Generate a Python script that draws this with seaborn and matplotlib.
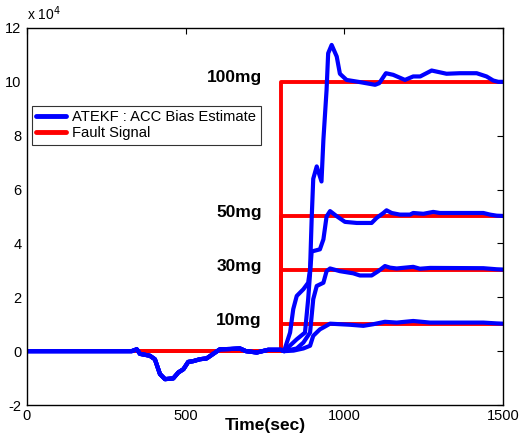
import numpy as np
import pandas as pd
import matplotlib
matplotlib.use("Agg")
import matplotlib.pyplot as plt
import seaborn as sns
from matplotlib.lines import Line2D
from matplotlib.ticker import FuncFormatter

sns.set_theme(style="white")
plt.rcParams['font.family'] = ['Liberation Sans', 'DejaVu Sans']
plt.rcParams['text.color'] = 'black'
plt.rcParams['axes.labelcolor'] = 'black'
plt.rcParams['xtick.color'] = 'black'
plt.rcParams['ytick.color'] = 'black'

# ---- data (values in units of 1e4) ----
fault_levels = [10, 30, 50, 100]          # mg
fault_values = [1.0, 3.0, 5.0, 10.0]      # x 1e4
fault_time = 800

# common pre-fault estimate
pre_t = [0, 330, 346, 356, 387, 403, 419, 435, 461, 477, 493, 508, 524, 545, 566, 587, 608, 640, 671, 690, 724, 760, 800]
pre_v = [0, 0, 0.07, -0.1, -0.17, -0.3, -0.85, -1.04, -1.01, -0.79, -0.67, -0.4, -0.37, -0.3, -0.27, -0.1, 0.07, 0.08, 0.1, 0.0, -0.05, 0.05, 0.05]

post_t_10 = [810, 840, 871, 892, 902, 923, 934, 955, 1018, 1060, 1091, 1128, 1165, 1217, 1270, 1438, 1480, 1500]
post_v_10 = [0.0, 0.02, 0.1, 0.2, 0.57, 0.81, 0.88, 1.02, 0.98, 0.94, 1.0, 1.09, 1.06, 1.12, 1.06, 1.06, 1.03, 1.02]

post_t_30 = [810, 850, 871, 892, 902, 913, 934, 944, 955, 986, 1028, 1049, 1086, 1107, 1128, 1144, 1165, 1217, 1238, 1270, 1438, 1480, 1500]
post_v_30 = [0.0, 0.1, 0.32, 0.69, 1.93, 2.42, 2.54, 2.97, 3.07, 2.97, 2.89, 2.81, 2.81, 2.97, 3.16, 3.1, 3.07, 3.13, 3.06, 3.09, 3.08, 3.04, 3.03]

post_t_50 = [810, 850, 876, 886, 897, 923, 934, 944, 955, 976, 1002, 1039, 1086, 1102, 1123, 1133, 1149, 1175, 1207, 1217, 1249, 1280, 1301, 1438, 1459, 1480, 1500]
post_v_50 = [0.0, 0.44, 0.69, 1.93, 3.7, 3.78, 4.15, 5.0, 5.2, 5.01, 4.8, 4.76, 4.76, 4.95, 5.13, 5.23, 5.13, 5.07, 5.07, 5.13, 5.1, 5.17, 5.13, 5.13, 5.07, 5.03, 5.02]

post_t_100 = [810, 829, 839, 850, 871, 886, 892, 897, 902, 913, 928, 934, 944, 949, 960, 976, 986, 1007, 1049, 1097, 1110, 1131, 1154, 1191, 1217, 1239, 1275, 1322, 1364, 1417, 1448, 1469, 1485, 1500]
post_v_100 = [0.0, 0.69, 1.56, 2.05, 2.3, 2.54, 3.04, 4.9, 6.4, 6.86, 6.3, 7.85, 9.7, 11.06, 11.37, 10.94, 10.3, 10.07, 9.99, 9.89, 9.95, 10.32, 10.26, 10.07, 10.2, 10.2, 10.42, 10.3, 10.32, 10.32, 10.2, 10.05, 10.0, 10.0]

posts = {10: (post_t_10, post_v_10), 30: (post_t_30, post_v_30),
         50: (post_t_50, post_v_50), 100: (post_t_100, post_v_100)}

scale = 1e4
rows_est, rows_fault = [], []
for lvl, fv in zip(fault_levels, fault_values):
    pt, pv = posts[lvl]
    for t, v in zip(pre_t + pt, pre_v + pv):
        rows_est.append((lvl, t, v * scale))
    for t, v in zip([0, fault_time, fault_time, 1500], [0, 0, fv, fv]):
        rows_fault.append((lvl, t, v * scale))
est = pd.DataFrame(rows_est, columns=["fault", "time", "value"])
flt = pd.DataFrame(rows_fault, columns=["fault", "time", "value"])

fig = plt.figure(figsize=(5.23, 4.37), dpi=100)
ax = fig.add_axes([0.0516, 0.0732, 0.9102, 0.8628])

red = "#ff0000"
blue = "#0000ff"
sns.lineplot(data=flt, x="time", y="value", hue="fault", units="fault", estimator=None,
             sort=False, palette=[red] * 4, linewidth=2.8, legend=False, ax=ax)
sns.lineplot(data=est, x="time", y="value", hue="fault", units="fault", estimator=None,
             sort=False, palette=[blue] * 4, linewidth=3.0, legend=False, ax=ax)
for ln in ax.get_lines():
    ln.set_solid_joinstyle("round")
    ln.set_solid_capstyle("round")

ax.set_xlim(0, 1500)
ax.set_ylim(-2e4, 12e4)
ax.set_xticks([0, 500, 1000, 1500])
ax.set_yticks(np.arange(-2e4, 12.1e4, 2e4))
ax.yaxis.set_major_formatter(FuncFormatter(lambda v, p: f"{v/1e4:g}"))
ax.tick_params(direction="in", length=4, width=0.8, labelsize=10.5, colors="black",
               top=True, right=True, pad=3)
ax.tick_params(axis="y", pad=4)
for s in ax.spines.values():
    s.set_color("black")
    s.set_linewidth(1.0)

ax.set_xlabel("Time(sec)", fontsize=12.5, fontweight="bold", labelpad=-4)
ax.set_ylabel("")
ax.text(0.0, 1.012, "x 10$^4$", transform=ax.transAxes, fontsize=10, ha="left", va="bottom")

for lvl, fv in zip(fault_levels, fault_values):
    ax.text(740, fv * scale + 0.15e4, f"{lvl}mg", fontsize=12.5, fontweight="bold",
            ha="right", va="center")

handles = [Line2D([0], [0], color=blue, lw=3.5), Line2D([0], [0], color=red, lw=3.5)]
leg = ax.legend(handles, ["ATEKF : ACC Bias Estimate", "Fault Signal"], loc="upper left",
                bbox_to_anchor=(0.01, 0.793), borderaxespad=0, fontsize=10.6,
                frameon=True, fancybox=False, handlelength=2.0, borderpad=0.3,
                labelspacing=0.12, handletextpad=0.45)
leg.get_frame().set_edgecolor("black")
leg.get_frame().set_linewidth(0.8)

fig.savefig("out.png", dpi=100)
